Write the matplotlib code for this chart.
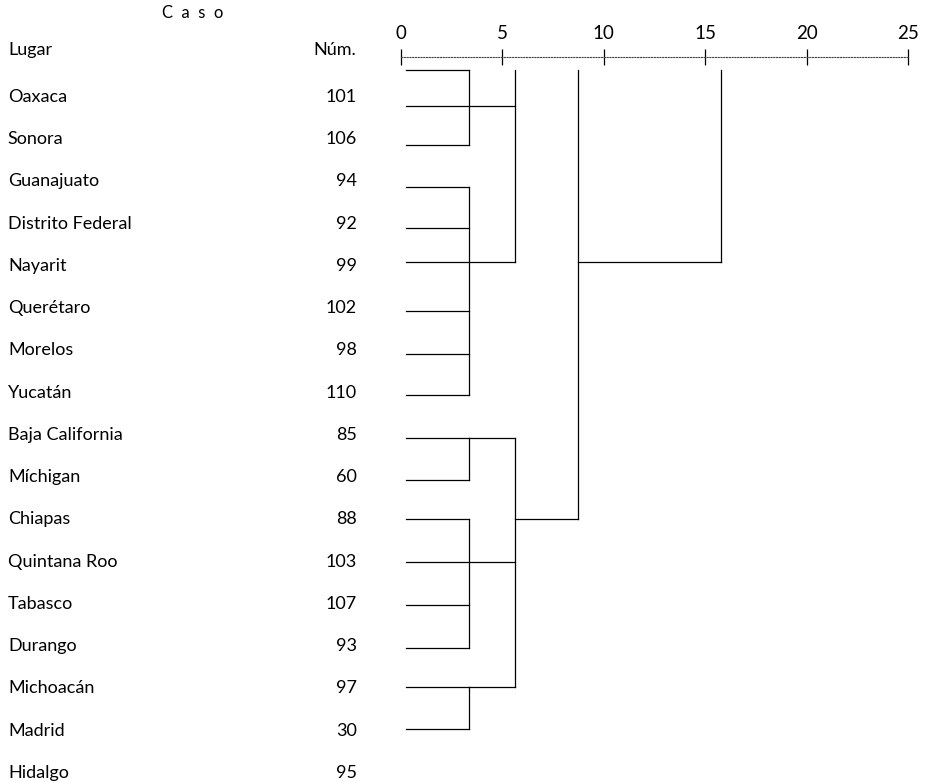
import matplotlib
matplotlib.use('Agg')
import matplotlib.pyplot as plt

plt.rcParams['font.family'] = ['Lato', 'DejaVu Sans']

# places and case numbers (one per row)
lugares = ['Oaxaca', 'Sonora', 'Guanajuato', 'Distrito Federal', 'Nayarit',
           'Querétaro', 'Morelos', 'Yucatán', 'Baja California', 'Míchigan',
           'Chiapas', 'Quintana Roo', 'Tabasco', 'Durango', 'Michoacán',
           'Madrid', 'Hidalgo']
numeros = ['101', '106', '94', '92', '99', '102', '98', '110', '85', '60',
           '88', '103', '107', '93', '97', '30', '95']

# leaf positions of the tree (in row units, as printed in the figure)
leaf_y = [-0.64, 0.21, 1.14, 2.13, 3.10, 3.91, 5.07, 6.08, 7.05,
          8.07, 9.07, 9.99, 11.0, 12.02, 13.04, 13.96, 14.96]
leaf_x0 = 0.23

# joins: height, leaves spanned by the vertical, (stem leaf, from height)
merges = [
    (3.35, (0, 2), [(0, leaf_x0), (1, leaf_x0), (2, leaf_x0)]),
    (3.35, (3, 8), [(i, leaf_x0) for i in range(3, 9)]),
    (3.35, (9, 10), [(9, leaf_x0), (10, leaf_x0)]),
    (3.35, (11, 14), [(i, leaf_x0) for i in range(11, 15)]),
    (3.35, (15, 16), [(15, leaf_x0), (16, leaf_x0)]),
    (5.6, (0, 5), [(1, 3.35), (5, 3.35)]),
    (5.6, (9, 15), [(9, 3.35), (12, 3.35), (15, 3.35)]),
    (8.71, (0, 11), [(11, 5.6)]),
    (15.8, (0, 5), [(5, 8.71)]),
]

ticks = [0, 5, 10, 15, 20, 25]

fig = plt.figure(figsize=(9.27, 7.81), dpi=100)
ax = fig.add_axes([0, 0, 1, 1])
ax.set_xlim(-19.77, 25.94)
ax.set_ylim(16.19, -2.296)

lw = 0.9
for h, (a, b), stems in merges:
    ax.plot([h, h], [leaf_y[a], leaf_y[b]], color='black', lw=lw)
    for leaf, x0 in stems:
        ax.plot([x0, h], [leaf_y[leaf], leaf_y[leaf]], color='black', lw=lw)

# scale on top
for s in ['left', 'right', 'bottom']:
    ax.spines[s].set_visible(False)
top = ax.spines['top']
top.set_position(('data', -0.95))
top.set_bounds(0, 25)
top.set_linestyle((0, (1, 1.5)))
top.set_linewidth(0.8)
top.set_color('#444444')
ax.xaxis.set_ticks_position('top')
ax.set_xticks(ticks)
ax.tick_params(axis='x', direction='inout', length=11, width=0.9,
               labelsize=13.5, pad=5)
ax.set_yticks([])

# table on the left
fs = 13
for i, (lug, num) in enumerate(zip(lugares, numeros)):
    ax.text(-19.38, i, lug, ha='left', va='center', fontsize=fs)
    ax.text(-2.17, i, num, ha='right', va='center', fontsize=fs)
ax.text(-19.38, -1.11, 'Lugar', ha='left', va='center', fontsize=fs)
ax.text(-2.2, -1.11, 'Núm.', ha='right', va='center', fontsize=fs)
ax.text(-10.25, -1.99, 'C  a  s  o', ha='center', va='center', fontsize=fs - 1)

fig.savefig('out.png', dpi=100)
